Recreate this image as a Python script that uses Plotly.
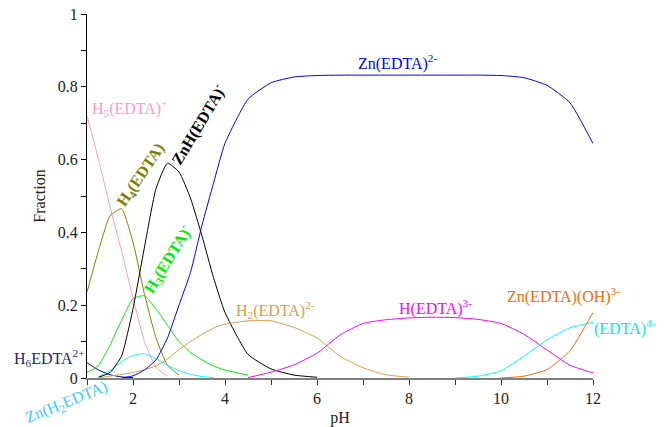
import plotly.graph_objects as go

ph = [1, 1.25, 1.5, 1.75, 2, 2.25, 2.5, 2.75, 3, 3.25, 3.5, 3.75, 4,
      4.5, 5, 5.5, 6, 6.5, 7, 7.5, 8, 8.5, 9, 9.5, 10, 10.5, 11, 11.5, 12]
N = None

h6_edta = [0.042, 0.022, 0.009, 0.003, 0.001] + [N] * 24
h5_edta = [0.72, 0.60, 0.47, 0.35, 0.22, 0.10, 0.03, 0.005] + [N] * 21
h4_edta = [0.236, 0.35, 0.445, 0.465, 0.373, 0.23, 0.11, 0.035, 0.008] + [N] * 20
h3_edta = [0.015, 0.035, 0.09, 0.158, 0.218, 0.226, 0.19, 0.145, 0.10, 0.07, 0.05,
           0.033, 0.022, 0.008] + [N] * 15
zn_h2edta = [N, 0.003, 0.02, 0.045, 0.062, 0.067, 0.053, 0.035, 0.02, 0.01, 0.004,
             0.001] + [N] * 17
znh_edta = [N, 0.002, 0.015, 0.06, 0.19, 0.36, 0.52, 0.59, 0.566, 0.494, 0.39,
            0.276, 0.18, 0.065, 0.025, 0.008, 0.002] + [N] * 12
zn_edta = [N, N, N, 0.0, 0.006, 0.022, 0.05, 0.11, 0.2, 0.29, 0.42, 0.535, 0.645,
           0.766, 0.811, 0.827, 0.831, 0.832, 0.832, 0.832, 0.832, 0.832, 0.832,
           0.832, 0.831, 0.825, 0.804, 0.756, 0.644]
h2_edta = [N, 0.0, 0.005, 0.01, 0.015, 0.023, 0.033, 0.052, 0.078, 0.1, 0.12, 0.137,
           0.148, 0.157, 0.157, 0.139, 0.11, 0.06, 0.028, 0.009, 0.002] + [N] * 8
h_edta = [N] * 13 + [0.001, 0.016, 0.036, 0.068, 0.118, 0.15, 0.16, 0.165, 0.167,
                     0.166, 0.161, 0.15, 0.12, 0.077, 0.035, 0.014]
edta4 = [N] * 22 + [0.0, 0.005, 0.02, 0.06, 0.105, 0.138, 0.153]
zn_edta_oh = [N] * 24 + [0.0, 0.005, 0.023, 0.075, 0.18]

series = [
    ("H6EDTA2+", h6_edta, "#000080"),
    ("H5(EDTA)+", h5_edta, "#FF99CC"),
    ("H4(EDTA)", h4_edta, "#808000"),
    ("H3(EDTA)-", h3_edta, "#00EE00"),
    ("Zn(H2EDTA)", zn_h2edta, "#00FFFF"),
    ("ZnH(EDTA)-", znh_edta, "#000000"),
    ("H2(EDTA)2-", h2_edta, "#D4A04C"),
    ("Zn(EDTA)2-", zn_edta, "#0000FF"),
    ("H(EDTA)3-", h_edta, "#FF00FF"),
    ("(EDTA)4-", edta4, "#00FFFF"),
    ("Zn(EDTA)(OH)3-", zn_edta_oh, "#FF6600"),
]

fig = go.Figure()
for name, vals, col in series:
    fig.add_trace(go.Scatter(x=ph, y=vals, mode="lines", name=name,
                             line=dict(color=col, width=1, shape="spline", smoothing=0.5),
                             connectgaps=False, showlegend=False))

FONT = "Liberation Serif, Times New Roman, serif"

# (text, x, y, ref, angle, colour, size, bold)
labels = [
    ("H<sub>5</sub>(EDTA)<sup>+</sup>", 1.93, 0.741, "data", 0, "#FF99CC", 16, False),
    ("H<sub>4</sub>(EDTA)", 2.17, 0.557, "data", -56, "#808000", 16, True),
    ("ZnH(EDTA)<sup>-</sup>", 3.41, 0.697, "data", -59, "#000000", 16, True),
    ("H<sub>3</sub>(EDTA)<sup>-</sup>", 2.76, 0.326, "data", -58, "#00EE00", 16, True),
    ("Zn(EDTA)<sup>2-</sup>", 7.76, 0.867, "data", 0, "#0000FF", 16, False),
    ("H<sub>2</sub>(EDTA)<sup>2-</sup>", 5.09, 0.186, "data", 0, "#D4A04C", 16, False),
    ("H(EDTA)<sup>3-</sup>", 8.57, 0.194, "data", 0, "#FF00FF", 16, False),
    ("Zn(EDTA)(OH)<sup>3-</sup>", 11.35, 0.227, "data", 0, "#FF6600", 16, False),
    ("(EDTA)<sup>4-</sup>", 1.063, 0.14, "paper", 0, "#00E5FF", 16, False),
    ("H<sub>6</sub>EDTA<sup>2+</sup>", -0.075, 0.055, "paper", 0, "#1F1F7A", 16, False),
    ("Zn(H<sub>2</sub>EDTA)", -0.040, -0.066, "paper", -22, "#33CCFF", 16, False),
]
for txt, lx, ly, ref, ang, col, sz, bold in labels:
    fig.add_annotation(x=lx, y=ly,
                       xref="x" if ref == "data" else "paper",
                       yref="y" if ref == "data" else "paper",
                       xanchor="center", yanchor="middle",
                       text=("<b>%s</b>" % txt) if bold else txt,
                       showarrow=False, textangle=ang,
                       font=dict(family=FONT, size=sz, color=col))

fig.update_layout(
    width=671, height=427,
    margin=dict(l=87, r=78, t=14, b=49, autoexpand=False),
    paper_bgcolor="white", plot_bgcolor="white",
    font=dict(family=FONT, size=16, color="#222222"),
    xaxis=dict(range=[1, 12], tickmode="linear", tick0=2, dtick=2, automargin=False,
               showgrid=False, zeroline=False, showline=True, linecolor="#808080",
               linewidth=1.5, ticks="outside", ticklen=5, tickcolor="#333333",
               ticklabeloverflow="allow",
               minor=dict(dtick=1, tick0=1, ticks="outside", ticklen=5, tickcolor="#333333"),
               title=dict(text="pH", standoff=6, font=dict(size=16))),
    yaxis=dict(range=[0, 1], tickmode="linear", tick0=0, dtick=0.2, automargin=False,
               showgrid=False, zeroline=False, showline=True, linecolor="#000000",
               linewidth=1, ticks="outside", ticklen=5, tickcolor="#000000",
               ticklabeloverflow="allow",
               minor=dict(dtick=0.1, ticks="outside", ticklen=5, tickcolor="#000000"),
               tickformat="~g",
               title=dict(text="Fraction", standoff=8, font=dict(size=16))),
)

# remove the page's default 8px body margin so the figure sits at the window's corner
fig.write_html("out.html", config={"displayModeBar": False},
               post_script="document.body.style.margin='0';")
